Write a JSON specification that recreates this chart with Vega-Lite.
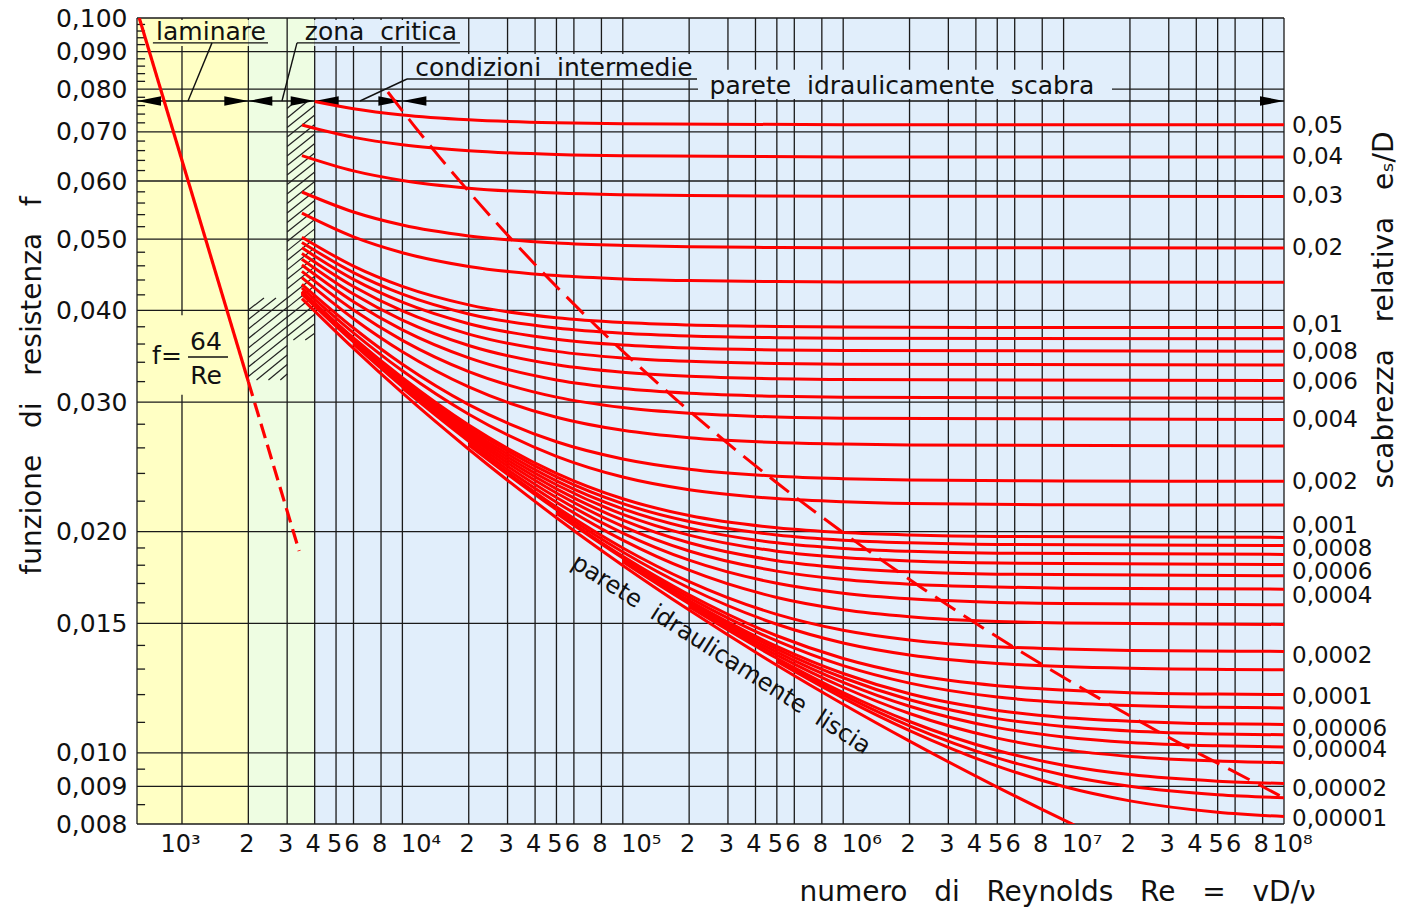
{
"$schema":"https://vega.github.io/schema/vega-lite/v6.json",
"width":1147,"height":806,
"autosize":{"type":"none"},
"padding":{"left":137,"top":18,"right":120,"bottom":87},
"background":"white",
"config":{"view":{"stroke":null},"font":"DejaVu Sans"},
"datasets":{
"zones":[
{"z":"lam","Re":625,"Re2":2000,"f":0.008,"f2":0.1},
{"z":"crit","Re":2000,"Re2":4000,"f":0.008,"f2":0.1},
{"z":"turb","Re":4000,"Re2":100000000,"f":0.008,"f2":0.1}],
"covers":[
{"z":"lam","Re":716,"Re2":2000,"f":0.0916,"f2":0.0994},
{"z":"crit","Re":2000,"Re2":2561,"f":0.0916,"f2":0.0994},
{"z":"crit","Re":3189,"Re2":4000,"f":0.0916,"f2":0.0994},
{"z":"turb","Re":4000,"Re2":19230,"f":0.0916,"f2":0.0994},
{"z":"turb","Re":10275,"Re2":223900,"f":0.0824,"f2":0.0893},
{"z":"turb","Re":219400,"Re2":16580000,"f":0.0776,"f2":0.085},
{"z":"lam","Re":679,"Re2":1740,"f":0.0307,"f2":0.0394}],
"vgrid":[
{"Re":625,"f":0.008,"f2":0.1},{"Re":1000,"f":0.008,"f2":0.1},{"Re":2000,"f":0.008,"f2":0.1},{"Re":3000,"f":0.008,"f2":0.1},{"Re":4000,"f":0.008,"f2":0.1},{"Re":5000,"f":0.008,"f2":0.1},{"Re":6000,"f":0.008,"f2":0.1},{"Re":8000,"f":0.008,"f2":0.1},
{"Re":10000,"f":0.008,"f2":0.1},{"Re":20000,"f":0.008,"f2":0.1},{"Re":30000,"f":0.008,"f2":0.1},{"Re":40000,"f":0.008,"f2":0.1},{"Re":50000,"f":0.008,"f2":0.1},{"Re":60000,"f":0.008,"f2":0.1},{"Re":80000,"f":0.008,"f2":0.1},
{"Re":100000,"f":0.008,"f2":0.1},{"Re":200000,"f":0.008,"f2":0.1},{"Re":300000,"f":0.008,"f2":0.1},{"Re":400000,"f":0.008,"f2":0.1},{"Re":500000,"f":0.008,"f2":0.1},{"Re":600000,"f":0.008,"f2":0.1},{"Re":800000,"f":0.008,"f2":0.1},
{"Re":1000000,"f":0.008,"f2":0.1},{"Re":2000000,"f":0.008,"f2":0.1},{"Re":3000000,"f":0.008,"f2":0.1},{"Re":4000000,"f":0.008,"f2":0.1},{"Re":5000000,"f":0.008,"f2":0.1},{"Re":6000000,"f":0.008,"f2":0.1},{"Re":8000000,"f":0.008,"f2":0.1},
{"Re":10000000,"f":0.008,"f2":0.1},{"Re":20000000,"f":0.008,"f2":0.1},{"Re":30000000,"f":0.008,"f2":0.1},{"Re":40000000,"f":0.008,"f2":0.1},{"Re":50000000,"f":0.008,"f2":0.1},{"Re":60000000,"f":0.008,"f2":0.1},{"Re":80000000,"f":0.008,"f2":0.1},
{"Re":100000000,"f":0.008,"f2":0.1}],
"hgrid":[{"f":0.008,"Re":625,"Re2":100000000},{"f":0.009,"Re":625,"Re2":100000000},{"f":0.01,"Re":625,"Re2":100000000},{"f":0.015,"Re":625,"Re2":100000000},{"f":0.02,"Re":625,"Re2":100000000},{"f":0.03,"Re":625,"Re2":100000000},{"f":0.04,"Re":625,"Re2":100000000},{"f":0.05,"Re":625,"Re2":100000000},{"f":0.06,"Re":625,"Re2":100000000},{"f":0.07,"Re":625,"Re2":100000000},{"f":0.08,"Re":625,"Re2":100000000},{"f":0.09,"Re":625,"Re2":100000000},{"f":0.1,"Re":625,"Re2":100000000}],
"lticks":[{"f":0.0085,"Re":625,"Re2":680},{"f":0.0095,"Re":625,"Re2":680},{"f":0.011,"Re":625,"Re2":680},{"f":0.012,"Re":625,"Re2":680},{"f":0.013,"Re":625,"Re2":680},{"f":0.014,"Re":625,"Re2":680},{"f":0.016,"Re":625,"Re2":680},{"f":0.017,"Re":625,"Re2":680},{"f":0.018,"Re":625,"Re2":680},{"f":0.019,"Re":625,"Re2":680},
{"f":0.022,"Re":625,"Re2":680},{"f":0.024,"Re":625,"Re2":680},{"f":0.026,"Re":625,"Re2":680},{"f":0.028,"Re":625,"Re2":680},{"f":0.032,"Re":625,"Re2":680},{"f":0.034,"Re":625,"Re2":680},{"f":0.036,"Re":625,"Re2":680},{"f":0.038,"Re":625,"Re2":680},{"f":0.042,"Re":625,"Re2":680},{"f":0.044,"Re":625,"Re2":680},{"f":0.046,"Re":625,"Re2":680},{"f":0.048,"Re":625,"Re2":680},
{"f":0.052,"Re":625,"Re2":680},{"f":0.054,"Re":625,"Re2":680},{"f":0.056,"Re":625,"Re2":680},{"f":0.058,"Re":625,"Re2":680},{"f":0.062,"Re":625,"Re2":680},{"f":0.064,"Re":625,"Re2":680},{"f":0.066,"Re":625,"Re2":680},{"f":0.068,"Re":625,"Re2":680},{"f":0.072,"Re":625,"Re2":680},{"f":0.074,"Re":625,"Re2":680},{"f":0.076,"Re":625,"Re2":680},{"f":0.078,"Re":625,"Re2":680},
{"f":0.082,"Re":625,"Re2":680},{"f":0.084,"Re":625,"Re2":680},{"f":0.086,"Re":625,"Re2":680},{"f":0.088,"Re":625,"Re2":680},{"f":0.092,"Re":625,"Re2":680},{"f":0.094,"Re":625,"Re2":680},{"f":0.096,"Re":625,"Re2":680},{"f":0.098,"Re":625,"Re2":680}],
"hatch":[
{"Re":3000,"f":0.07529,"Re2":3284,"f2":0.0771},
{"Re":3000,"f":0.07308,"Re2":3722,"f2":0.0771},
{"Re":3000,"f":0.07094,"Re2":4000,"f2":0.076},
{"Re":3000,"f":0.06886,"Re2":4000,"f2":0.07377},
{"Re":3000,"f":0.06684,"Re2":4000,"f2":0.07161},
{"Re":3000,"f":0.06488,"Re2":4000,"f2":0.06951},
{"Re":3000,"f":0.06299,"Re2":4000,"f2":0.06748},
{"Re":3000,"f":0.06114,"Re2":4000,"f2":0.0655},
{"Re":3000,"f":0.05935,"Re2":4000,"f2":0.06358},
{"Re":3000,"f":0.05761,"Re2":4000,"f2":0.06172},
{"Re":3000,"f":0.05592,"Re2":4000,"f2":0.05991},
{"Re":3000,"f":0.05429,"Re2":4000,"f2":0.05816},
{"Re":3000,"f":0.05269,"Re2":4000,"f2":0.05645},
{"Re":3000,"f":0.05115,"Re2":4000,"f2":0.0548},
{"Re":3000,"f":0.04965,"Re2":4000,"f2":0.05319},
{"Re":3000,"f":0.0482,"Re2":4000,"f2":0.05164},
{"Re":3000,"f":0.04678,"Re2":4000,"f2":0.05012},
{"Re":3000,"f":0.04542,"Re2":4000,"f2":0.04866},
{"Re":3000,"f":0.04409,"Re2":4000,"f2":0.04723},
{"Re":3000,"f":0.0428,"Re2":4000,"f2":0.04585},
{"Re":3000,"f":0.04155,"Re2":4000,"f2":0.04451},
{"Re":3000,"f":0.04032,"Re2":4000,"f2":0.0432},
{"Re":3000,"f":0.03915,"Re2":4000,"f2":0.04194},
{"Re":3000,"f":0.038,"Re2":4000,"f2":0.04071},
{"Re":3000,"f":0.03689,"Re2":4000,"f2":0.03952},
{"Re":3202,"f":0.03646,"Re2":4000,"f2":0.03836},
{"Re":3624,"f":0.03646,"Re2":4000,"f2":0.03724},
{"Re":2000,"f":0.04005,"Re2":2355,"f2":0.04159},
{"Re":2000,"f":0.03888,"Re2":2670,"f2":0.04159},
{"Re":2000,"f":0.03774,"Re2":3000,"f2":0.04159},
{"Re":2000,"f":0.03663,"Re2":3000,"f2":0.04037},
{"Re":2000,"f":0.03556,"Re2":3000,"f2":0.03918},
{"Re":2000,"f":0.03451,"Re2":3000,"f2":0.03803},
{"Re":2000,"f":0.0335,"Re2":3000,"f2":0.03692},
{"Re":2000,"f":0.03252,"Re2":3000,"f2":0.03584},
{"Re":2178,"f":0.03216,"Re2":3000,"f2":0.03478},
{"Re":2467,"f":0.03216,"Re2":3000,"f2":0.03376},
{"Re":2793,"f":0.03216,"Re2":3000,"f2":0.03277}],
"alines":[
{"Re":625,"f":0.0771,"Re2":100000000,"f2":0.0771},
{"Re":738,"f":0.0925,"Re2":2456,"f2":0.0925},
{"Re":1368,"f":0.0925,"Re2":1065,"f2":0.0771},
{"Re":3325,"f":0.0925,"Re2":18250,"f2":0.0925},
{"Re":3325,"f":0.0925,"Re2":2842,"f2":0.0771},
{"Re":10493,"f":0.0826,"Re2":217200,"f2":0.0826},
{"Re":10493,"f":0.0826,"Re2":6421,"f2":0.0771},
{"Re":1065,"f":0.03457,"Re2":1617,"f2":0.03457}],
"arrows":[
{"Re":625,"f":0.0771,"dir":"sx"},{"Re":2000,"f":0.0771,"dir":"dx"},{"Re":2000,"f":0.0771,"dir":"sx"},
{"Re":4000,"f":0.0771,"dir":"dx"},{"Re":4000,"f":0.0771,"dir":"sx"},{"Re":10000,"f":0.0771,"dir":"dx"},
{"Re":10000,"f":0.0771,"dir":"sx"},{"Re":100000000,"f":0.0771,"dir":"dx"}],
"laminar":[
{"seg":"solid","Re":640,"f":0.1},{"seg":"solid","Re":2000,"f":0.032},
{"seg":"dash","Re":2000,"f":0.032},{"seg":"dash","Re":3400,"f":0.018824}],
"bound":[
{"Re":8590,"f":0.0793},{"Re":11215,"f":0.07155},{"Re":14746,"f":0.06467},{"Re":20912,"f":0.05717},
{"Re":34007,"f":0.04864},{"Re":77049,"f":0.0379},{"Re":172146,"f":0.03037},{"Re":490068,"f":0.02342},
{"Re":1070300,"f":0.01964},{"Re":2321400,"f":0.0167},{"Re":6400400,"f":0.01373},{"Re":13705000,"f":0.01198},
{"Re":29222000,"f":0.01054},{"Re":79010000,"f":0.009011},{"Re":100000000,"f":0.00868}],
"curves":[
{"e":"0.05","Re":4000,"f":0.07698},{"e":"0.05","Re":6000,"f":0.07525},{"e":"0.05","Re":10000,"f":0.0738},{"e":"0.05","Re":20000,"f":0.07269},{"e":"0.05","Re":50000,"f":0.07201},{"e":"0.05","Re":100000,"f":0.07178},{"e":"0.05","Re":1000000,"f":0.07158},{"e":"0.05","Re":100000000,"f":0.07155},
{"e":"0.04","Re":3500,"f":0.0715},{"e":"0.04","Re":6000,"f":0.06879},{"e":"0.04","Re":10000,"f":0.0672},{"e":"0.04","Re":20000,"f":0.06596},{"e":"0.04","Re":50000,"f":0.06519},{"e":"0.04","Re":100000,"f":0.06493},{"e":"0.04","Re":1000000,"f":0.0647},{"e":"0.04","Re":100000000,"f":0.06467},
{"e":"0.03","Re":3500,"f":0.06497},{"e":"0.03","Re":6000,"f":0.06193},{"e":"0.03","Re":10000,"f":0.06011},{"e":"0.03","Re":20000,"f":0.05867},{"e":"0.03","Re":50000,"f":0.05778},{"e":"0.03","Re":100000,"f":0.05748},{"e":"0.03","Re":200000,"f":0.05733},{"e":"0.03","Re":1000000,"f":0.0572},{"e":"0.03","Re":100000000,"f":0.05717},
{"e":"0.02","Re":3500,"f":0.05797},{"e":"0.02","Re":6000,"f":0.05445},{"e":"0.02","Re":10000,"f":0.05227},{"e":"0.02","Re":20000,"f":0.05052},{"e":"0.02","Re":50000,"f":0.04941},{"e":"0.02","Re":100000,"f":0.04903},{"e":"0.02","Re":200000,"f":0.04883},{"e":"0.02","Re":500000,"f":0.04872},{"e":"0.02","Re":1000000,"f":0.04868},{"e":"0.02","Re":100000000,"f":0.04864},
{"e":"0.015","Re":3500,"f":0.05425},{"e":"0.015","Re":6000,"f":0.05037},{"e":"0.015","Re":10000,"f":0.04793},{"e":"0.015","Re":20000,"f":0.04591},{"e":"0.015","Re":50000,"f":0.04461},{"e":"0.015","Re":100000,"f":0.04415},{"e":"0.015","Re":200000,"f":0.04392},{"e":"0.015","Re":500000,"f":0.04378},{"e":"0.015","Re":1000000,"f":0.04374},{"e":"0.015","Re":100000000,"f":0.04369},
{"e":"0.01","Re":3500,"f":0.05031},{"e":"0.01","Re":6000,"f":0.04596},{"e":"0.01","Re":10000,"f":0.04313},{"e":"0.01","Re":20000,"f":0.0407},{"e":"0.01","Re":50000,"f":0.03908},{"e":"0.01","Re":100000,"f":0.0385},{"e":"0.01","Re":200000,"f":0.03821},{"e":"0.01","Re":500000,"f":0.03803},{"e":"0.01","Re":1000000,"f":0.03797},{"e":"0.01","Re":10000000,"f":0.03791},{"e":"0.01","Re":100000000,"f":0.0379},
{"e":"0.009","Re":3500,"f":0.0495},{"e":"0.009","Re":6000,"f":0.04503},{"e":"0.009","Re":10000,"f":0.04209},{"e":"0.009","Re":20000,"f":0.03956},{"e":"0.009","Re":50000,"f":0.03785},{"e":"0.009","Re":100000,"f":0.03723},{"e":"0.009","Re":200000,"f":0.03691},{"e":"0.009","Re":500000,"f":0.03672},{"e":"0.009","Re":1000000,"f":0.03665},{"e":"0.009","Re":100000000,"f":0.03659},
{"e":"0.008","Re":3500,"f":0.04866},{"e":"0.008","Re":6000,"f":0.04408},{"e":"0.008","Re":10000,"f":0.04104},{"e":"0.008","Re":20000,"f":0.03837},{"e":"0.008","Re":50000,"f":0.03655},{"e":"0.008","Re":100000,"f":0.03589},{"e":"0.008","Re":200000,"f":0.03555},{"e":"0.008","Re":500000,"f":0.03534},{"e":"0.008","Re":1000000,"f":0.03527},{"e":"0.008","Re":100000000,"f":0.0352},
{"e":"0.007","Re":3500,"f":0.04782},{"e":"0.007","Re":6000,"f":0.04311},{"e":"0.007","Re":10000,"f":0.03993},{"e":"0.007","Re":20000,"f":0.03714},{"e":"0.007","Re":50000,"f":0.03518},{"e":"0.007","Re":100000,"f":0.03447},{"e":"0.007","Re":200000,"f":0.0341},{"e":"0.007","Re":500000,"f":0.03387},{"e":"0.007","Re":1000000,"f":0.03379},{"e":"0.007","Re":100000000,"f":0.03371},
{"e":"0.006","Re":3500,"f":0.04697},{"e":"0.006","Re":6000,"f":0.04211},{"e":"0.006","Re":10000,"f":0.03881},{"e":"0.006","Re":20000,"f":0.03584},{"e":"0.006","Re":50000,"f":0.03373},{"e":"0.006","Re":100000,"f":0.03295},{"e":"0.006","Re":200000,"f":0.03254},{"e":"0.006","Re":500000,"f":0.03229},{"e":"0.006","Re":1000000,"f":0.0322},{"e":"0.006","Re":100000000,"f":0.03212},
{"e":"0.005","Re":3500,"f":0.04611},{"e":"0.005","Re":6000,"f":0.04109},{"e":"0.005","Re":10000,"f":0.03763},{"e":"0.005","Re":20000,"f":0.03447},{"e":"0.005","Re":50000,"f":0.03217},{"e":"0.005","Re":100000,"f":0.03131},{"e":"0.005","Re":200000,"f":0.03085},{"e":"0.005","Re":500000,"f":0.03056},{"e":"0.005","Re":1000000,"f":0.03047},{"e":"0.005","Re":100000000,"f":0.03037},
{"e":"0.004","Re":3500,"f":0.04521},{"e":"0.004","Re":6000,"f":0.04005},{"e":"0.004","Re":10000,"f":0.03642},{"e":"0.004","Re":20000,"f":0.03302},{"e":"0.004","Re":50000,"f":0.03048},{"e":"0.004","Re":100000,"f":0.0295},{"e":"0.004","Re":200000,"f":0.02897},{"e":"0.004","Re":500000,"f":0.02864},{"e":"0.004","Re":1000000,"f":0.02853},{"e":"0.004","Re":100000000,"f":0.02842},
{"e":"0.003","Re":3500,"f":0.04432},{"e":"0.003","Re":6000,"f":0.03897},{"e":"0.003","Re":10000,"f":0.03514},{"e":"0.003","Re":20000,"f":0.03147},{"e":"0.003","Re":50000,"f":0.02862},{"e":"0.003","Re":100000,"f":0.02747},{"e":"0.003","Re":200000,"f":0.02684},{"e":"0.003","Re":500000,"f":0.02644},{"e":"0.003","Re":1000000,"f":0.02631},{"e":"0.003","Re":2000000,"f":0.02624},{"e":"0.003","Re":100000000,"f":0.02616},
{"e":"0.002","Re":3500,"f":0.04341},{"e":"0.002","Re":6000,"f":0.03785},{"e":"0.002","Re":10000,"f":0.03379},{"e":"0.002","Re":20000,"f":0.02978},{"e":"0.002","Re":50000,"f":0.0265},{"e":"0.002","Re":100000,"f":0.02511},{"e":"0.002","Re":200000,"f":0.02431},{"e":"0.002","Re":500000,"f":0.02379},{"e":"0.002","Re":1000000,"f":0.02361},{"e":"0.002","Re":2000000,"f":0.02351},{"e":"0.002","Re":10000000,"f":0.02344},{"e":"0.002","Re":100000000,"f":0.02342},
{"e":"0.0015","Re":3500,"f":0.04293},{"e":"0.0015","Re":6000,"f":0.03728},{"e":"0.0015","Re":10000,"f":0.0331},{"e":"0.0015","Re":20000,"f":0.02889},{"e":"0.0015","Re":50000,"f":0.02532},{"e":"0.0015","Re":100000,"f":0.02373},{"e":"0.0015","Re":200000,"f":0.0228},{"e":"0.0015","Re":500000,"f":0.02218},{"e":"0.0015","Re":1000000,"f":0.02196},{"e":"0.0015","Re":2000000,"f":0.02184},{"e":"0.0015","Re":10000000,"f":0.02175},{"e":"0.0015","Re":100000000,"f":0.02173},
{"e":"0.001","Re":3500,"f":0.04247},{"e":"0.001","Re":6000,"f":0.03669},{"e":"0.001","Re":10000,"f":0.03239},{"e":"0.001","Re":20000,"f":0.02793},{"e":"0.001","Re":50000,"f":0.02401},{"e":"0.001","Re":100000,"f":0.02217},{"e":"0.001","Re":200000,"f":0.02103},{"e":"0.001","Re":500000,"f":0.02024},{"e":"0.001","Re":1000000,"f":0.01994},{"e":"0.001","Re":2000000,"f":0.01979},{"e":"0.001","Re":5000000,"f":0.0197},{"e":"0.001","Re":100000000,"f":0.01964},
{"e":"0.0009","Re":3500,"f":0.04239},{"e":"0.0009","Re":6000,"f":0.03658},{"e":"0.0009","Re":10000,"f":0.03224},{"e":"0.0009","Re":20000,"f":0.02775},{"e":"0.0009","Re":50000,"f":0.02374},{"e":"0.0009","Re":100000,"f":0.02183},{"e":"0.0009","Re":200000,"f":0.02064},{"e":"0.0009","Re":500000,"f":0.01979},{"e":"0.0009","Re":1000000,"f":0.01947},{"e":"0.0009","Re":2000000,"f":0.01931},{"e":"0.0009","Re":5000000,"f":0.01921},{"e":"0.0009","Re":100000000,"f":0.01914},
{"e":"0.0008","Re":3500,"f":0.04228},{"e":"0.0008","Re":6000,"f":0.03646},{"e":"0.0008","Re":10000,"f":0.03209},{"e":"0.0008","Re":20000,"f":0.02755},{"e":"0.0008","Re":50000,"f":0.02345},{"e":"0.0008","Re":100000,"f":0.02148},{"e":"0.0008","Re":200000,"f":0.02022},{"e":"0.0008","Re":500000,"f":0.01931},{"e":"0.0008","Re":1000000,"f":0.01897},{"e":"0.0008","Re":2000000,"f":0.0188},{"e":"0.0008","Re":5000000,"f":0.01869},{"e":"0.0008","Re":100000000,"f":0.01862},
{"e":"0.0007","Re":3500,"f":0.0422},{"e":"0.0007","Re":6000,"f":0.03635},{"e":"0.0007","Re":10000,"f":0.03195},{"e":"0.0007","Re":20000,"f":0.02735},{"e":"0.0007","Re":50000,"f":0.02316},{"e":"0.0007","Re":100000,"f":0.02111},{"e":"0.0007","Re":200000,"f":0.01978},{"e":"0.0007","Re":500000,"f":0.01881},{"e":"0.0007","Re":1000000,"f":0.01844},{"e":"0.0007","Re":2000000,"f":0.01824},{"e":"0.0007","Re":5000000,"f":0.01812},{"e":"0.0007","Re":100000000,"f":0.01804},
{"e":"0.0006","Re":3500,"f":0.0421},{"e":"0.0006","Re":6000,"f":0.03623},{"e":"0.0006","Re":10000,"f":0.0318},{"e":"0.0006","Re":20000,"f":0.02715},{"e":"0.0006","Re":50000,"f":0.02287},{"e":"0.0006","Re":100000,"f":0.02073},{"e":"0.0006","Re":200000,"f":0.01931},{"e":"0.0006","Re":500000,"f":0.01826},{"e":"0.0006","Re":1000000,"f":0.01785},{"e":"0.0006","Re":2000000,"f":0.01763},{"e":"0.0006","Re":5000000,"f":0.0175},{"e":"0.0006","Re":100000000,"f":0.01741},
{"e":"0.0005","Re":6000,"f":0.03611},{"e":"0.0005","Re":10000,"f":0.03165},{"e":"0.0005","Re":20000,"f":0.02696},{"e":"0.0005","Re":50000,"f":0.02257},{"e":"0.0005","Re":100000,"f":0.02033},{"e":"0.0005","Re":200000,"f":0.01882},{"e":"0.0005","Re":500000,"f":0.01767},{"e":"0.0005","Re":1000000,"f":0.01721},{"e":"0.0005","Re":2000000,"f":0.01696},{"e":"0.0005","Re":5000000,"f":0.01681},{"e":"0.0005","Re":10000000,"f":0.01675},{"e":"0.0005","Re":100000000,"f":0.0167},
{"e":"0.0004","Re":6000,"f":0.03598},{"e":"0.0004","Re":10000,"f":0.0315},{"e":"0.0004","Re":20000,"f":0.02676},{"e":"0.0004","Re":50000,"f":0.02225},{"e":"0.0004","Re":100000,"f":0.01991},{"e":"0.0004","Re":200000,"f":0.01829},{"e":"0.0004","Re":500000,"f":0.01701},{"e":"0.0004","Re":1000000,"f":0.01649},{"e":"0.0004","Re":2000000,"f":0.0162},{"e":"0.0004","Re":5000000,"f":0.01602},{"e":"0.0004","Re":10000000,"f":0.01596},{"e":"0.0004","Re":100000000,"f":0.0159},
{"e":"0.0003","Re":10000,"f":0.03135},{"e":"0.0003","Re":20000,"f":0.02655},{"e":"0.0003","Re":50000,"f":0.02193},{"e":"0.0003","Re":100000,"f":0.01947},{"e":"0.0003","Re":200000,"f":0.01772},{"e":"0.0003","Re":500000,"f":0.01627},{"e":"0.0003","Re":1000000,"f":0.01566},{"e":"0.0003","Re":2000000,"f":0.01532},{"e":"0.0003","Re":5000000,"f":0.01509},{"e":"0.0003","Re":10000000,"f":0.01502},{"e":"0.0003","Re":100000000,"f":0.01495},
{"e":"0.0002","Re":20000,"f":0.02635},{"e":"0.0002","Re":50000,"f":0.0216},{"e":"0.0002","Re":100000,"f":0.019},{"e":"0.0002","Re":200000,"f":0.0171},{"e":"0.0002","Re":500000,"f":0.01543},{"e":"0.0002","Re":1000000,"f":0.01468},{"e":"0.0002","Re":2000000,"f":0.01424},{"e":"0.0002","Re":5000000,"f":0.01394},{"e":"0.0002","Re":10000000,"f":0.01384},{"e":"0.0002","Re":20000000,"f":0.01378},{"e":"0.0002","Re":100000000,"f":0.01374},
{"e":"0.00015","Re":20000,"f":0.02624},{"e":"0.00015","Re":50000,"f":0.02143},{"e":"0.00015","Re":100000,"f":0.01876},{"e":"0.00015","Re":200000,"f":0.01676},{"e":"0.00015","Re":500000,"f":0.01496},{"e":"0.00015","Re":1000000,"f":0.01411},{"e":"0.00015","Re":2000000,"f":0.01359},{"e":"0.00015","Re":5000000,"f":0.01323},{"e":"0.00015","Re":10000000,"f":0.0131},{"e":"0.00015","Re":20000000,"f":0.01303},{"e":"0.00015","Re":100000000,"f":0.01297},
{"e":"0.0001","Re":50000,"f":0.02126},{"e":"0.0001","Re":100000,"f":0.01851},{"e":"0.0001","Re":200000,"f":0.01641},{"e":"0.0001","Re":500000,"f":0.01443},{"e":"0.0001","Re":1000000,"f":0.01344},{"e":"0.0001","Re":2000000,"f":0.0128},{"e":"0.0001","Re":5000000,"f":0.01234},{"e":"0.0001","Re":10000000,"f":0.01217},{"e":"0.0001","Re":20000000,"f":0.01207},{"e":"0.0001","Re":50000000,"f":0.01202},{"e":"0.0001","Re":100000000,"f":0.012},
{"e":"0.00008","Re":50000,"f":0.02118},{"e":"0.00008","Re":100000,"f":0.01841},{"e":"0.00008","Re":200000,"f":0.01626},{"e":"0.00008","Re":500000,"f":0.0142},{"e":"0.00008","Re":1000000,"f":0.01314},{"e":"0.00008","Re":2000000,"f":0.01244},{"e":"0.00008","Re":5000000,"f":0.01191},{"e":"0.00008","Re":10000000,"f":0.01171},{"e":"0.00008","Re":20000000,"f":0.0116},{"e":"0.00008","Re":50000000,"f":0.01153},{"e":"0.00008","Re":100000000,"f":0.01151},
{"e":"0.00006","Re":100000,"f":0.01831},{"e":"0.00006","Re":200000,"f":0.01611},{"e":"0.00006","Re":500000,"f":0.01396},{"e":"0.00006","Re":1000000,"f":0.01282},{"e":"0.00006","Re":2000000,"f":0.01203},{"e":"0.00006","Re":5000000,"f":0.01142},{"e":"0.00006","Re":10000000,"f":0.01117},{"e":"0.00006","Re":20000000,"f":0.01104},{"e":"0.00006","Re":50000000,"f":0.01095},{"e":"0.00006","Re":100000000,"f":0.01093},
{"e":"0.00005","Re":100000,"f":0.01826},{"e":"0.00005","Re":200000,"f":0.01604},{"e":"0.00005","Re":500000,"f":0.01384},{"e":"0.00005","Re":1000000,"f":0.01265},{"e":"0.00005","Re":2000000,"f":0.01181},{"e":"0.00005","Re":5000000,"f":0.01113},{"e":"0.00005","Re":10000000,"f":0.01086},{"e":"0.00005","Re":20000000,"f":0.01071},{"e":"0.00005","Re":50000000,"f":0.01061},{"e":"0.00005","Re":100000000,"f":0.01058},
{"e":"0.00004","Re":100000,"f":0.0182},{"e":"0.00004","Re":200000,"f":0.01596},{"e":"0.00004","Re":500000,"f":0.01371},{"e":"0.00004","Re":1000000,"f":0.01247},{"e":"0.00004","Re":2000000,"f":0.01157},{"e":"0.00004","Re":5000000,"f":0.01082},{"e":"0.00004","Re":10000000,"f":0.01051},{"e":"0.00004","Re":20000000,"f":0.01033},{"e":"0.00004","Re":50000000,"f":0.01022},{"e":"0.00004","Re":100000000,"f":0.01018},
{"e":"0.00003","Re":200000,"f":0.01588},{"e":"0.00003","Re":500000,"f":0.01358},{"e":"0.00003","Re":1000000,"f":0.01228},{"e":"0.00003","Re":2000000,"f":0.01131},{"e":"0.00003","Re":5000000,"f":0.01047},{"e":"0.00003","Re":10000000,"f":0.0101},{"e":"0.00003","Re":20000000,"f":0.009888},{"e":"0.00003","Re":50000000,"f":0.009747},{"e":"0.00003","Re":100000000,"f":0.009696},
{"e":"0.00002","Re":200000,"f":0.0158},{"e":"0.00002","Re":500000,"f":0.01345},{"e":"0.00002","Re":1000000,"f":0.01208},{"e":"0.00002","Re":2000000,"f":0.01103},{"e":"0.00002","Re":5000000,"f":0.01007},{"e":"0.00002","Re":10000000,"f":0.009619},{"e":"0.00002","Re":20000000,"f":0.009341},{"e":"0.00002","Re":50000000,"f":0.00915},{"e":"0.00002","Re":100000000,"f":0.009083},
{"e":"0.000015","Re":500000,"f":0.01338},{"e":"0.000015","Re":1000000,"f":0.01198},{"e":"0.000015","Re":2000000,"f":0.01088},{"e":"0.000015","Re":5000000,"f":0.009842},{"e":"0.000015","Re":10000000,"f":0.00933},{"e":"0.000015","Re":20000000,"f":0.009002},{"e":"0.000015","Re":50000000,"f":0.00877},{"e":"0.000015","Re":100000000,"f":0.008687},
{"e":"0.00001","Re":500000,"f":0.01331},{"e":"0.00001","Re":1000000,"f":0.01187},{"e":"0.00001","Re":2000000,"f":0.01072},{"e":"0.00001","Re":5000000,"f":0.009592},{"e":"0.00001","Re":10000000,"f":0.008996},{"e":"0.00001","Re":20000000,"f":0.008601},{"e":"0.00001","Re":50000000,"f":0.0083},{"e":"0.00001","Re":100000000,"f":0.008188},
{"e":"liscia","Re":3500,"f":0.04151},{"e":"liscia","Re":6000,"f":0.03551},{"e":"liscia","Re":10000,"f":0.03088},{"e":"liscia","Re":20000,"f":0.02589},{"e":"liscia","Re":50000,"f":0.02089},{"e":"liscia","Re":100000,"f":0.01799},{"e":"liscia","Re":200000,"f":0.01564},{"e":"liscia","Re":500000,"f":0.013158},{"e":"liscia","Re":1000000,"f":0.011645},{"e":"liscia","Re":2000000,"f":0.010373},{"e":"liscia","Re":5000000,"f":0.008981},{"e":"liscia","Re":10000000,"f":0.008102},{"e":"liscia","Re":20000000,"f":0.007344}],
"annot":[
{"t":"laminare","Re":1354,"f":0.0933},
{"t":"zona\u00a0\u00a0critica","Re":7996,"f":0.0933},
{"t":"condizioni\u00a0\u00a0intermedie","Re":48740,"f":0.0834},
{"t":"parete\u00a0\u00a0idraulicamente\u00a0\u00a0scabra","Re":1849000,"f":0.0788}],
"formula":[
{"t":"f=","Re":855,"f":0.03467},
{"t":"64","Re":1285,"f":0.03623},
{"t":"Re","Re":1285,"f":0.03257}],
"liscia":[{"t":"parete\u00a0\u00a0idraulicamente\u00a0\u00a0liscia","Re":279000,"f":0.01359}],
"rlabels":[
{"t":"0,05","Re":100000000,"f":0.07129},{"t":"0,04","Re":100000000,"f":0.06469},{"t":"0,03","Re":100000000,"f":0.05725},
{"t":"0,02","Re":100000000,"f":0.04864},{"t":"0,01","Re":100000000,"f":0.03821},{"t":"0,008","Re":100000000,"f":0.03511},
{"t":"0,006","Re":100000000,"f":0.03196},{"t":"0,004","Re":100000000,"f":0.02837},{"t":"0,002","Re":100000000,"f":0.02336},
{"t":"0,001","Re":100000000,"f":0.02035},{"t":"0,0008","Re":100000000,"f":0.01894},{"t":"0,0006","Re":100000000,"f":0.01762},
{"t":"0,0004","Re":100000000,"f":0.01634},{"t":"0,0002","Re":100000000,"f":0.01354},{"t":"0,0001","Re":100000000,"f":0.01191},
{"t":"0,00006","Re":100000000,"f":0.01077},{"t":"0,00004","Re":100000000,"f":0.01009},{"t":"0,00002","Re":100000000,"f":0.008929},
{"t":"0,00001","Re":100000000,"f":0.008127}],
"rtitle":[{"t":"scabrezza\u00a0\u00a0\u00a0relativa\u00a0\u00a0\u00a0eₛ/D","Re":100000000,"f":0.04005}]
},
"encoding":{
"x":{"field":"Re","type":"quantitative",
 "scale":{"type":"log","domain":[625,100000000],"nice":false,"zero":false},
 "axis":{
  "values":[1000,2000,3000,4000,5000,6000,8000,10000,20000,30000,40000,50000,60000,80000,100000,200000,300000,400000,500000,600000,800000,1000000,2000000,3000000,4000000,5000000,6000000,8000000,10000000,20000000,30000000,40000000,50000000,60000000,80000000,100000000],
  "labelExpr":"datum.value == 1000 ? '10³' : datum.value == 10000 ? '10⁴' : datum.value == 100000 ? '10⁵' : datum.value == 1000000 ? '10⁶' : datum.value == 10000000 ? '10⁷' : datum.value == 100000000 ? '10⁸' : substring(toString(datum.value), 0, 1)",
  "labelAlign":{"condition":{"test":"datum.value == 10000 || datum.value == 100000 || datum.value == 1000000 || datum.value == 10000000 || datum.value == 100000000","value":"left"},"value":"center"},
  "labelOffset":{"condition":{"test":"datum.value == 100000000","value":-12},"value":-2},
  "grid":false,"ticks":false,"domain":false,
  "labelFont":"DejaVu Sans","labelFontSize":24,"labelColor":"#111","labelPadding":8,
  "labelOverlap":false,"labelFlush":false,"labelBound":false,
  "title":"numero\u00a0\u00a0\u00a0di\u00a0\u00a0\u00a0Reynolds\u00a0\u00a0\u00a0Re\u00a0\u00a0\u00a0=\u00a0\u00a0\u00a0vD/ν",
  "titleFont":"DejaVu Sans","titleFontSize":28,"titleFontWeight":"normal","titleColor":"#111",
  "titleX":920,"titleY":76,"titleAlign":"center","titleBaseline":"alphabetic"}},
"y":{"field":"f","type":"quantitative",
 "scale":{"type":"log","domain":[0.008,0.1],"nice":false,"zero":false},
 "axis":{
  "values":[0.008,0.009,0.01,0.015,0.02,0.03,0.04,0.05,0.06,0.07,0.08,0.09,0.1],
  "labelExpr":"replace(format(datum.value, '.3f'), '.', ',')",
  "grid":false,"ticks":false,"domain":false,
  "labelFont":"DejaVu Sans","labelFontSize":25,"labelColor":"#111","labelPadding":10,
  "labelOverlap":false,"labelFlush":false,"labelBound":false,
  "title":"funzione\u00a0\u00a0\u00a0di\u00a0\u00a0\u00a0resistenza\u00a0\u00a0\u00a0f",
  "titleFont":"DejaVu Sans","titleFontSize":28,"titleFontWeight":"normal","titleColor":"#111",
  "titleX":-105,"titleY":367,"titleAngle":270,"titleAlign":"center","titleBaseline":"middle"}}
},
"layer":[
{"data":{"name":"zones"},"mark":{"type":"rect","strokeWidth":0},
 "encoding":{"x2":{"field":"Re2"},"y2":{"field":"f2"},
  "color":{"field":"z","type":"nominal","scale":{"domain":["lam","crit","turb"],"range":["#ffffc4","#eefde2","#e1eefb"]},"legend":null}}},
{"data":{"name":"vgrid"},"mark":{"type":"rule","color":"#1a1a1a","strokeWidth":1.3},
 "encoding":{"y2":{"field":"f2"}}},
{"data":{"name":"hgrid"},"mark":{"type":"rule","color":"#1a1a1a","strokeWidth":1.3},
 "encoding":{"x2":{"field":"Re2"}}},
{"data":{"name":"covers"},"mark":{"type":"rect","strokeWidth":0},
 "encoding":{"x2":{"field":"Re2"},"y2":{"field":"f2"},
  "color":{"field":"z","type":"nominal","scale":{"domain":["lam","crit","turb"],"range":["#ffffc4","#eefde2","#e1eefb"]},"legend":null}}},
{"data":{"name":"lticks"},"mark":{"type":"rule","color":"#1a1a1a","strokeWidth":1.3},
 "encoding":{"x2":{"field":"Re2"}}},
{"data":{"name":"hatch"},"mark":{"type":"rule","color":"#222","strokeWidth":1.2},
 "encoding":{"x2":{"field":"Re2"},"y2":{"field":"f2"}}},
{"data":{"name":"alines"},"mark":{"type":"rule","color":"#111","strokeWidth":1.4},
 "encoding":{"x2":{"field":"Re2"},"y2":{"field":"f2"}}},
{"data":{"name":"arrows"},"mark":{"type":"point","filled":true,"color":"#000","size":576,"strokeWidth":0,"opacity":1},
 "encoding":{"shape":{"field":"dir","type":"nominal","scale":{"domain":["dx","sx"],"range":["M0,0L-2,-0.4L-2,0.4Z","M0,0L2,-0.4L2,0.4Z"]},"legend":null}}},
{"data":{"name":"curves"},"mark":{"type":"line","color":"#ff0000","strokeWidth":3,"interpolate":"monotone","clip":true},
 "encoding":{"detail":{"field":"e","type":"nominal"}}},
{"data":{"name":"laminar"},"mark":{"type":"line","color":"#ff0000","strokeWidth":3.2,"clip":true},
 "encoding":{"detail":{"field":"seg","type":"nominal"},
  "strokeDash":{"field":"seg","type":"nominal","scale":{"domain":["solid","dash"],"range":[[1,0],[15,7]]},"legend":null}}},
{"data":{"name":"bound"},"mark":{"type":"line","color":"#ff0000","strokeWidth":3,"strokeDash":[24,10],"interpolate":"monotone","clip":true},
 "encoding":{}},
{"data":{"name":"annot"},"mark":{"type":"text","font":"DejaVu Sans","fontSize":25,"align":"center","baseline":"alphabetic","color":"#111"},
 "encoding":{"text":{"field":"t"}}},
{"data":{"name":"formula"},"mark":{"type":"text","font":"DejaVu Sans","fontSize":25,"align":"center","baseline":"middle","color":"#111"},
 "encoding":{"text":{"field":"t"}}},
{"data":{"name":"liscia"},"mark":{"type":"text","font":"DejaVu Sans","fontSize":24,"align":"center","baseline":"middle","angle":32.6,"color":"#111"},
 "encoding":{"text":{"field":"t"}}},
{"data":{"name":"rlabels"},"mark":{"type":"text","font":"DejaVu Sans","fontSize":23,"align":"left","baseline":"middle","dx":8,"color":"#111"},
 "encoding":{"text":{"field":"t"}}},
{"data":{"name":"rtitle"},"mark":{"type":"text","font":"DejaVu Sans","fontSize":28,"align":"center","baseline":"middle","angle":270,"dy":101,"color":"#111"},
 "encoding":{"text":{"field":"t"}}}
]
}
